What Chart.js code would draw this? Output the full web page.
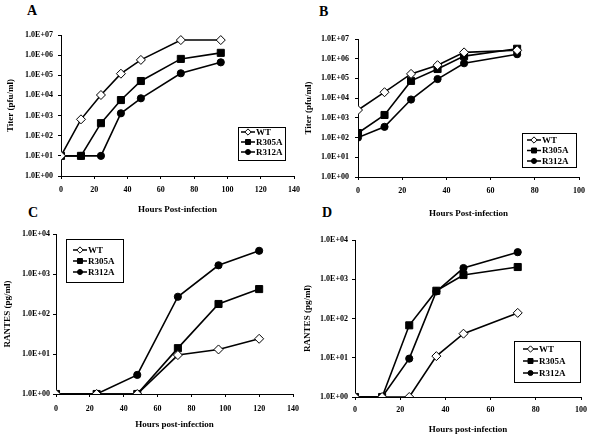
<!DOCTYPE html>
<html>
<head>
<meta charset="utf-8">
<script src="https://cdn.jsdelivr.net/npm/chart.js@4"></script>
<style>
  body { margin: 0; background: #fff; width: 592px; height: 435px; position: relative; overflow: hidden; }
  canvas { position: absolute; }
  .tag { position: absolute; font: bold 14px "Liberation Serif", serif; line-height: 14px; }
</style>
</head>
<body>
<div class="tag" style="left:27px;top:4px">A</div>
<div class="tag" style="left:319px;top:5px">B</div>
<div class="tag" style="left:28px;top:206px">C</div>
<div class="tag" style="left:322px;top:206px">D</div>
<canvas id="chartA" width="306" height="195" style="left:0;top:20px"></canvas>
<canvas id="chartB" width="294" height="199" style="left:298px;top:20px"></canvas>
<canvas id="chartC" width="306" height="208" style="left:0;top:222px"></canvas>
<canvas id="chartD" width="294" height="213" style="left:298px;top:222px"></canvas>
<script>
// series names and markers
const seriesNames = ['WT', 'R305A', 'R312A'];

// A: virus titer, first cell type
const hoursA = [0, 12, 24, 36, 48, 72, 96];
const wtA = [10, 650, 1.05e4, 1.2e5, 5.8e5, 5.6e6, 5.6e6];
const r305A_A = [10, 10, 420, 5.9e3, 5.2e4, 6.5e5, 1.3e6];
const r312A_A = [10, 10, 10, 1.3e3, 7.2e3, 1.26e5, 4.4e5];

// B: virus titer, second cell type
const hoursB = [0, 12, 24, 36, 48, 72];
const wtB = [2.5e3, 2e4, 1.7e5, 4.7e5, 2.1e6, 2.7e6];
const r305A_B = [170, 1.4e3, 7.5e4, 3e5, 1.35e6, 3.2e6];
const r312A_B = [100, 350, 8.5e3, 9.3e4, 5.9e5, 1.7e6];

// C: RANTES, first cell type
const hoursC = [0, 24, 48, 72, 96, 120];
const wtC = [1, 1, 1, 9.4, 13, 24];
const r305A_C = [1, 1, 1, 14, 178, 420];
const r312A_C = [1, 1, 3, 270, 1650, 3800];

// D: RANTES, second cell type
const hoursD = [0, 12, 24, 36, 48, 72];
const wtD = [1, 1, 1, 11, 41, 139];
const r305A_D = [1, 1, 67, 510, 1280, 2050];
const r312A_D = [1, 1, 9.5, 490, 1930, 4900];

// tick labels
const titerTicks = [1, 10, 100, 1e3, 1e4, 1e5, 1e6, 1e7];
const titerLabels = ['1.0E+00', '1.0E+01', '1.0E+02', '1.0E+03', '1.0E+04', '1.0E+05', '1.0E+06', '1.0E+07'];
const rantesTicks = [1, 10, 100, 1e3, 1e4];
const rantesLabels = ['1.0E+00', '1.0E+01', '1.0E+02', '1.0E+03', '1.0E+04'];

const FONT = '"Liberation Serif", "Times New Roman", serif';
const markers = [
  { pointStyle: 'rectRot', pointRadius: 4.5, pointBackgroundColor: '#fff' },
  { pointStyle: 'rect', pointRadius: 5, pointBackgroundColor: '#000' },
  { pointStyle: 'circle', pointRadius: 3.6, pointBackgroundColor: '#000' }
];

function drawMarker(ctx, style, r, x, y, fill) {
  ctx.beginPath();
  if (style === 'rectRot') {
    ctx.moveTo(x, y - r); ctx.lineTo(x + r, y); ctx.lineTo(x, y + r); ctx.lineTo(x - r, y); ctx.closePath();
  } else if (style === 'rect') {
    const s = r * Math.SQRT1_2;
    ctx.rect(x - s, y - s, 2 * s, 2 * s);
  } else {
    ctx.arc(x, y, r, 0, Math.PI * 2);
  }
  ctx.fillStyle = fill;
  ctx.fill();
  ctx.lineWidth = 1;
  ctx.strokeStyle = '#000';
  ctx.stroke();
}

// boxed legend drawn inside the plot, page coordinates
const boxLegend = {
  id: 'boxLegend',
  afterDraw(chart, args, o) {
    if (!o.width) return;
    const ctx = chart.ctx;
    const ox = chart.canvas.offsetLeft, oy = chart.canvas.offsetTop;
    const x = o.left - ox, y = o.top - oy;
    ctx.save();
    ctx.fillStyle = '#fff';
    ctx.fillRect(x, y, o.width, o.height);
    ctx.strokeStyle = '#000';
    ctx.lineWidth = 1;
    ctx.strokeRect(x + 0.5, y + 0.5, o.width, o.height);
    chart.data.datasets.forEach((ds, i) => {
      const cy = o.rows[i] - oy;
      const x0 = o.line[0] - ox, x1 = o.line[1] - ox;
      ctx.beginPath();
      ctx.moveTo(x0, cy);
      ctx.lineTo(x1, cy);
      ctx.lineWidth = 1.5;
      ctx.strokeStyle = '#000';
      ctx.stroke();
      drawMarker(ctx, ds.pointStyle, ds.pointRadius * 0.7, (x0 + x1) / 2, cy, ds.pointBackgroundColor);
      ctx.fillStyle = '#000';
      ctx.font = 'bold 9px ' + FONT;
      ctx.textBaseline = 'middle';
      ctx.fillText(ds.label, x1 + 1, cy + 0.5);
    });
    ctx.restore();
  }
};
Chart.register(boxLegend);

function makePanel(id, p) {
  const canvas = document.getElementById(id);
  const cl = canvas.offsetLeft, ct = canvas.offsetTop;
  const datasets = p.series.map((vals, i) => Object.assign({
    label: seriesNames[i],
    data: p.hours.map((h, j) => ({ x: h, y: vals[j] })),
    borderColor: '#000',
    borderWidth: 1.6,
    pointBorderColor: '#000',
    pointBorderWidth: 1,
    tension: 0
  }, markers[i]));

  return new Chart(canvas, {
    type: 'line',
    data: { datasets },
    options: {
      responsive: false,
      animation: false,
      events: [],
      layout: { padding: { left: 0, top: p.plot.top - ct, right: cl + canvas.width - p.plot.right, bottom: 0 } },
      plugins: {
        legend: { display: false },
        tooltip: { enabled: false },
        boxLegend: p.legend
      },
      scales: {
        x: {
          type: 'linear',
          min: 0,
          max: p.xMax,
          afterFit: s => { s.height = ct + canvas.height - p.plot.bottom; },
          ticks: { stepSize: 20, color: '#000', padding: p.xPad, font: { family: FONT, size: 8, weight: 'bold' } },
          grid: { display: true, drawOnChartArea: false, drawTicks: true, tickLength: 3, color: '#000' },
          border: { display: true, color: '#000', width: 1 },
          title: { display: true, text: p.xTitle, color: '#000', padding: { top: 2.6, bottom: 0 }, font: { family: FONT, size: 9, weight: 'bold' } }
        },
        y: {
          type: 'logarithmic',
          min: 1,
          max: p.yTicks[p.yTicks.length - 1],
          afterFit: s => { s.width = p.plot.left - cl; },
          afterBuildTicks: s => { s.ticks = p.yTicks.map(v => ({ value: v, major: true })); },
          ticks: {
            color: '#000', padding: p.yPad, autoSkip: false,
            font: { family: FONT, size: 8, weight: 'bold' },
            callback: v => p.yLabels[p.yTicks.indexOf(v)]
          },
          grid: { display: true, drawOnChartArea: false, drawTicks: true, tickLength: 3, color: '#000' },
          border: { display: true, color: '#000', width: 1 },
          title: { display: true, text: p.yTitle, color: '#000', padding: { top: p.yTitlePad, bottom: 0 }, font: { family: FONT, size: 9, weight: 'bold' } }
        }
      }
    }
  });
}

makePanel('chartA', {
  hours: hoursA, series: [wtA, r305A_A, r312A_A], xMax: 140,
  yTicks: titerTicks, yLabels: titerLabels,
  xTitle: 'Hours Post-infection', yTitle: 'Titer (pfu/ml)',
  plot: { left: 61, right: 296, top: 35, bottom: 176 },
  xPad: 6, yPad: 5, yTitlePad: 5.6,
  legend: { left: 238, top: 127, width: 47, height: 33, rows: [132, 142, 152], line: [241, 255] }
});
makePanel('chartB', {
  hours: hoursB, series: [wtB, r305A_B, r312A_B], xMax: 100,
  yTicks: titerTicks, yLabels: titerLabels,
  xTitle: 'Hours Post-infection', yTitle: 'Titer (pfu/ml)',
  plot: { left: 358, right: 579, top: 39, bottom: 177 },
  xPad: 6, yPad: 6, yTitlePad: 5.6,
  legend: { left: 522, top: 133, width: 54, height: 34, rows: [140, 150.5, 161], line: [527, 541] }
});
makePanel('chartC', {
  hours: hoursC, series: [wtC, r305A_C, r312A_C], xMax: 140,
  yTicks: rantesTicks, yLabels: rantesLabels,
  xTitle: 'Hours post-infection', yTitle: 'RANTES (pg/ml)',
  plot: { left: 56, right: 295, top: 234, bottom: 394 },
  xPad: 7, yPad: 3, yTitlePad: 2.6,
  legend: { left: 66, top: 239, width: 57, height: 43, rows: [250, 261, 272], line: [73, 87] }
});
makePanel('chartD', {
  hours: hoursD, series: [wtD, r305A_D, r312A_D], xMax: 100,
  yTicks: rantesTicks, yLabels: rantesLabels,
  xTitle: 'Hours post-infection', yTitle: 'RANTES (pg/ml)',
  plot: { left: 355, right: 581, top: 240, bottom: 397 },
  xPad: 5, yPad: 4, yTitlePad: 4.6,
  legend: { left: 514, top: 341, width: 66, height: 41, rows: [349, 361, 373], line: [523, 538] }
});
</script>
</body>
</html>
